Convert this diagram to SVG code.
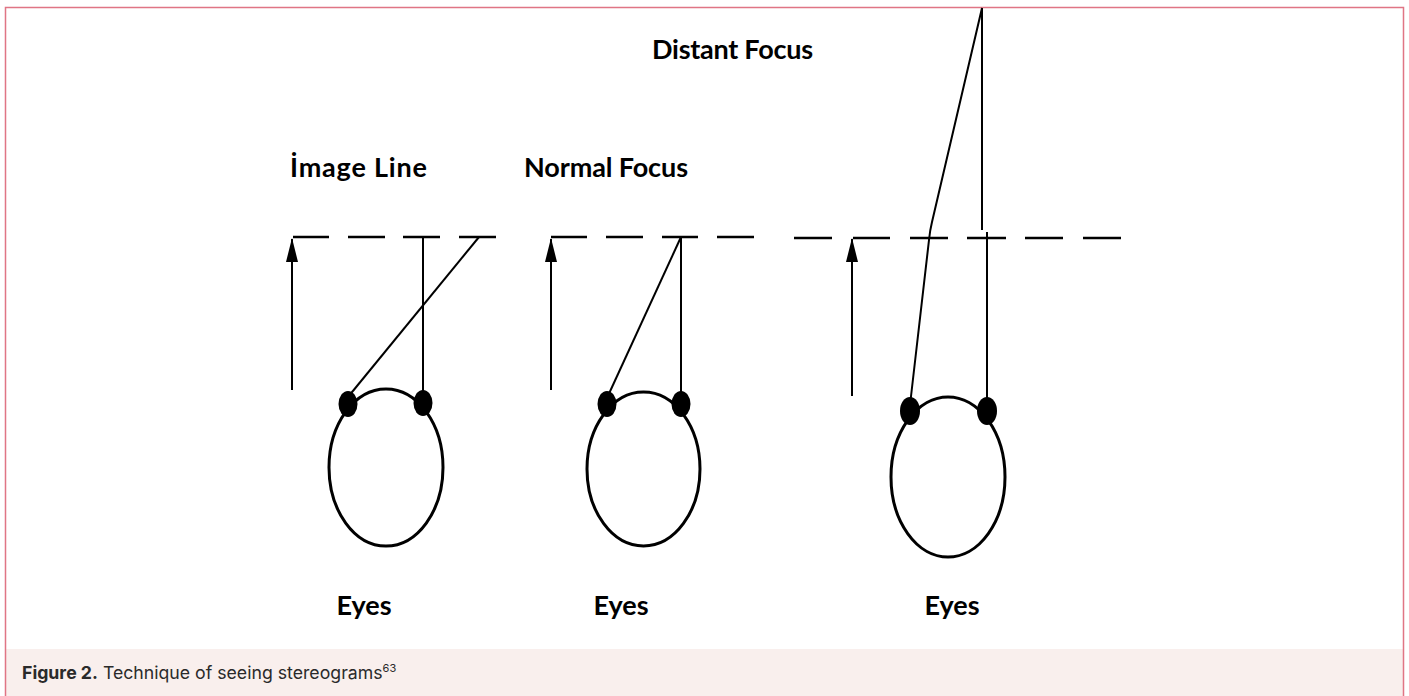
<svg xmlns="http://www.w3.org/2000/svg" width="1409" height="696" viewBox="0 0 1409 696">
<defs>
<style>
.ln{stroke:#000;stroke-width:2;fill:none}
.dash{stroke:#000;stroke-width:2.6;fill:none}
.head{stroke:#000;stroke-width:3;fill:none}
.eye{fill:#000}
.lbl{font-family:Lato,"Open Sans",sans-serif;font-weight:bold;font-size:27px;fill:#000}
.cap{font-family:Inter,"Noto Sans",sans-serif;font-size:17.7px;fill:#2a2a2a}
</style>
<marker id="ah" viewBox="0 0 24 12" refX="23" refY="6" markerWidth="24" markerHeight="12" markerUnits="userSpaceOnUse" orient="auto">
<path d="M0,0 L24,6 L0,12 Z" fill="#000"/>
</marker>
</defs>
<rect x="0" y="0" width="1409" height="696" fill="#fff"/>
<rect x="6" y="649" width="1397" height="47" fill="#f9efed"/>
<path d="M5.5,696 V7.5 H1403.5 V696" fill="none" stroke="#e07585" stroke-width="1.5"/>
<text class="cap" x="22" y="679"><tspan font-weight="bold">Figure 2.</tspan> Technique of seeing stereograms<tspan font-size="11" dy="-7">63</tspan></text>

<g id="labels">
<text class="lbl" x="290" y="177" textLength="137">İmage Line</text>
<text class="lbl" x="524" y="177" textLength="164">Normal Focus</text>
<text class="lbl" x="652" y="59" textLength="161">Distant Focus</text>
</g>

<g id="connectors">
<path class="dash" d="M293,237 H329 M348,237 H385 M403,237 H440 M459,237 H496"/>
<path class="dash" d="M551,237 H587 M606,237 H643 M662,237 H698 M717,237 H754"/>
<path class="dash" d="M794,238 H832 M853,238 H890 M910,238 H948 M967,238 H1006 M1025,238 H1063 M1083,238 H1121"/>
<line class="ln" x1="292" y1="390" x2="292" y2="239" marker-end="url(#ah)"/>
<line class="ln" x1="551" y1="390" x2="551" y2="239" marker-end="url(#ah)"/>
<line class="ln" x1="852" y1="396" x2="852" y2="239" marker-end="url(#ah)"/>
<line class="ln" x1="423" y1="237" x2="423" y2="400"/>
<line class="ln" x1="348" y1="397" x2="479" y2="237"/>
<line class="ln" x1="681" y1="237" x2="681" y2="400"/>
<line class="ln" x1="607" y1="398" x2="681" y2="237"/>
<line class="ln" x1="982" y1="8" x2="982" y2="230"/>
<line class="ln" x1="987" y1="232" x2="987" y2="406"/>
<path class="ln" d="M982,8 L932,222 Q930,230 929,240 L910,405"/>
</g>

<g id="eyes1">
<ellipse class="head" cx="386" cy="467.5" rx="57" ry="78.5"/>
<ellipse class="eye" cx="348" cy="404" rx="9.5" ry="13"/>
<ellipse class="eye" cx="423" cy="403" rx="9.5" ry="13"/>
<text class="lbl" x="364" y="615" text-anchor="middle">Eyes</text>
</g>
<g id="eyes2">
<ellipse class="head" cx="643.5" cy="469" rx="56.5" ry="77"/>
<ellipse class="eye" cx="607" cy="404" rx="9.5" ry="13"/>
<ellipse class="eye" cx="681" cy="404" rx="9.5" ry="13"/>
<text class="lbl" x="621" y="615" text-anchor="middle">Eyes</text>
</g>
<g id="eyes3">
<ellipse class="head" cx="948" cy="477" rx="57" ry="80"/>
<ellipse class="eye" cx="910" cy="411" rx="10" ry="14"/>
<ellipse class="eye" cx="987" cy="411" rx="10" ry="14"/>
<text class="lbl" x="952" y="615" text-anchor="middle">Eyes</text>
</g>
</svg>
